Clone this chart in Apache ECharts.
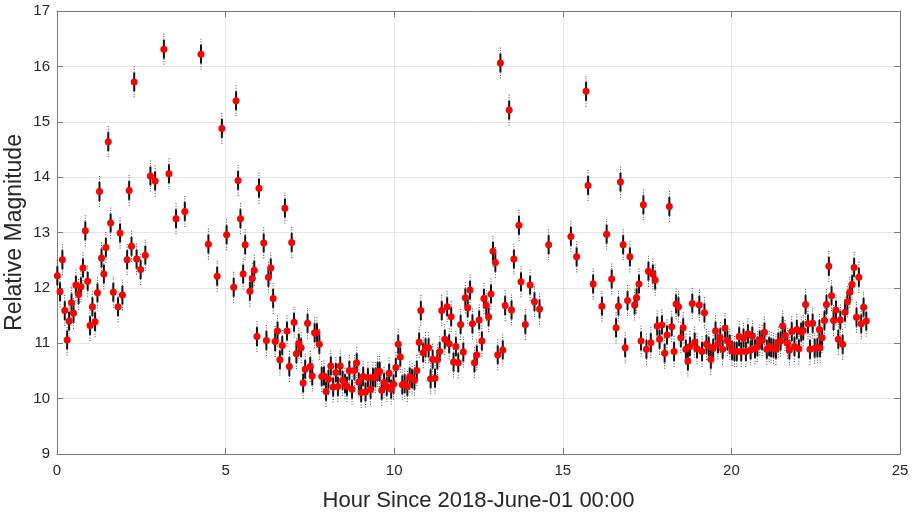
<!DOCTYPE html>
<html>
<head>
<meta charset="utf-8">
<script src="https://cdn.jsdelivr.net/npm/echarts@6/dist/echarts.min.js"></script>
<style>
html,body{margin:0;padding:0;background:#fff;}
#chart{width:915px;height:513px;}
</style>
</head>
<body>
<div id="chart"></div>
<script>
// Observation time (hours since 2018-06-01 00:00)
const hours = [
0.01,0.09,0.16,0.23,0.30,0.36,0.43,0.49,0.56,0.64,0.71,0.77,0.84,0.91,0.98,1.05,1.13,1.20,1.26,1.32,
1.39,1.45,1.52,1.59,1.67,1.81,1.87,1.94,2.08,2.14,2.21,2.29,2.36,2.48,2.62,2.77,2.91,3.17,3.32,3.53,
3.79,4.27,4.49,4.75,4.89,5.03,5.24,5.31,5.37,5.44,5.52,5.58,5.72,5.79,5.85,5.93,5.99,6.13,6.21,6.27,
6.34,6.41,6.47,6.54,6.61,6.68,6.76,6.82,6.89,6.96,7.03,7.10,7.17,7.24,7.30,7.36,7.43,7.51,7.57,7.64,
7.71,7.78,7.85,7.92,7.98,8.05,8.12,8.19,8.27,8.33,8.40,8.47,8.54,8.60,8.67,8.75,8.82,8.89,8.95,9.02,
9.08,9.15,9.22,9.30,9.37,9.44,9.51,9.57,9.63,9.70,9.78,9.85,9.91,9.98,10.05,10.12,10.18,10.24,10.31,10.39,
10.46,10.53,10.60,10.67,10.74,10.79,10.86,10.93,11.02,11.08,11.14,11.21,11.28,11.35,11.41,11.50,11.57,11.63,11.69,11.76,
11.83,11.90,11.97,12.05,12.11,12.18,12.25,12.32,12.38,12.45,12.52,12.60,12.66,12.73,12.80,12.87,12.93,13.00,13.07,13.15,
13.22,13.29,13.41,13.48,13.55,13.70,13.76,13.89,14.03,14.16,14.31,14.58,15.24,15.41,15.69,15.75,15.90,16.16,16.30,16.45,
16.58,16.65,16.71,16.79,16.85,16.92,16.99,17.13,17.19,17.26,17.32,17.39,17.48,17.54,17.61,17.67,17.74,17.80,17.87,17.94,
18.02,18.09,18.16,18.23,18.30,18.36,18.43,18.50,18.57,18.65,18.71,18.77,18.84,18.91,18.98,19.05,19.13,19.20,19.26,19.33,
19.39,19.46,19.53,19.60,19.67,19.74,19.81,19.88,19.95,20.02,20.09,20.16,20.23,20.29,20.36,20.43,20.49,20.57,20.62,20.70,
20.77,20.84,20.91,20.98,21.05,21.12,21.18,21.25,21.32,21.39,21.46,21.52,21.59,21.66,21.72,21.79,21.87,21.94,22.00,22.07,
22.13,22.20,22.27,22.33,22.41,22.47,22.55,22.61,22.63,22.69,22.76,22.82,22.89,22.97,23.03,23.10,23.17,23.23,23.30,23.37,
23.44,23.51,23.58,23.64,23.71,23.78,23.85,23.92,24.00
];
// Relative magnitude at each time
const magnitudes = [
12.22,11.93,12.51,11.59,11.06,11.40,11.73,11.54,12.05,11.88,12.02,12.36,13.03,12.12,11.32,11.66,11.39,11.91,13.74,12.54,
12.25,12.73,14.64,13.17,11.92,11.66,12.99,11.87,12.51,13.76,12.75,15.72,12.52,12.33,12.59,14.02,13.93,16.31,14.06,13.25,
13.38,16.22,12.79,12.21,14.88,12.96,12.01,15.38,13.94,13.25,12.25,12.78,11.94,12.17,12.32,11.12,13.80,12.81,11.05,12.19,
12.36,11.81,11.03,11.22,10.70,10.96,13.44,11.22,10.58,12.82,11.38,10.81,11.00,10.92,10.28,10.53,11.36,10.58,10.41,11.19,
11.19,10.98,10.40,10.41,10.13,10.35,10.59,10.21,10.47,10.22,10.59,10.33,10.27,10.22,10.51,10.17,10.51,10.65,10.30,10.11,
10.40,10.12,10.38,10.17,10.38,10.38,10.49,10.49,10.15,10.29,10.22,10.46,10.17,10.26,10.56,10.98,10.75,10.25,10.27,10.22,
10.39,10.36,10.33,10.51,11.02,11.59,10.83,10.92,10.92,10.36,10.71,10.37,10.70,10.85,11.59,11.07,11.66,10.99,11.48,10.66,
10.94,10.65,11.34,10.84,11.82,11.64,11.96,11.35,10.65,10.79,11.42,11.04,11.81,11.68,11.48,11.89,12.66,12.46,10.79,16.06,
10.88,11.68,15.21,11.60,12.52,13.13,12.11,11.34,12.05,11.75,11.62,12.78,12.93,12.56,15.55,13.85,12.07,11.67,12.97,12.16,
11.28,11.67,13.91,12.78,10.92,11.77,12.56,11.69,11.82,12.07,11.04,13.50,10.89,12.30,11.01,12.25,12.14,11.31,11.07,11.33,
10.82,11.15,13.47,11.30,10.85,11.71,11.66,11.10,11.28,10.89,10.68,10.94,11.72,11.02,10.90,11.69,10.85,11.55,10.98,10.94,
10.71,10.91,11.22,10.99,11.10,10.89,11.27,11.05,10.98,10.87,10.85,10.85,11.12,10.85,11.09,10.85,11.17,10.88,11.13,10.90,
10.94,11.06,11.05,11.20,10.89,10.94,10.92,10.91,10.89,11.02,11.04,11.31,11.14,11.00,10.88,11.21,10.94,11.25,10.90,11.20,
11.23,11.70,11.35,10.89,11.36,10.91,10.92,11.25,10.92,11.10,11.41,11.70,12.39,11.86,11.41,11.60,11.07,11.42,10.98,11.56,
11.75,11.92,12.06,12.37,11.47,12.19,11.35,11.65,11.40
];
const errInner = 0.17;   // solid part of error bar (mag)
const errOuter = 0.28;   // dotted extent of error bar (mag)
const xTicks = {min: 0, max: 25, interval: 5};
const yTicks = {min: 9, max: 17, interval: 1};

const points = hours.map((h, i) => [h, magnitudes[i]]);

const FONT = 'Liberation Sans, Arial, Helvetica, sans-serif';
const AXIS_COLOR = '#7a7a7a';
const TEXT_COLOR = '#262626';

const chart = echarts.init(document.getElementById('chart'), null, {renderer: 'canvas'});
chart.setOption({
  animation: false,
  backgroundColor: '#ffffff',
  grid: {left: 57, right: 15, top: 11, bottom: 59, containLabel: false, outerBoundsMode: 'none'},
  xAxis: [{
    type: 'value', min: xTicks.min, max: xTicks.max, interval: xTicks.interval,
    name: 'Hour Since 2018-June-01 00:00', nameLocation: 'middle', nameGap: 36,
    nameTextStyle: {fontFamily: FONT, fontSize: 22, color: TEXT_COLOR},
    axisLine: {show: true, onZero: false, lineStyle: {color: AXIS_COLOR, width: 1}},
    axisTick: {show: true, inside: true, length: 6, lineStyle: {color: AXIS_COLOR}},
    axisLabel: {fontFamily: FONT, fontSize: 15, color: TEXT_COLOR, margin: 9},
    splitLine: {show: true, lineStyle: {color: '#e6e6e6', width: 1}}
  }, {
    type: 'value', position: 'top', min: xTicks.min, max: xTicks.max, interval: xTicks.interval,
    axisLine: {show: true, onZero: false, lineStyle: {color: AXIS_COLOR, width: 1}},
    axisTick: {show: true, inside: true, length: 6, lineStyle: {color: AXIS_COLOR}},
    axisLabel: {show: false}, splitLine: {show: false}
  }],
  yAxis: [{
    type: 'value', min: yTicks.min, max: yTicks.max, interval: yTicks.interval,
    name: 'Relative Magnitude', nameLocation: 'middle', nameGap: 31, nameRotate: 90,
    nameMoveOverlap: false,
    nameTextStyle: {fontFamily: FONT, fontSize: 23, color: TEXT_COLOR},
    axisLine: {show: true, onZero: false, lineStyle: {color: AXIS_COLOR, width: 1}},
    axisTick: {show: true, inside: true, length: 6, lineStyle: {color: AXIS_COLOR}},
    axisLabel: {fontFamily: FONT, fontSize: 15, color: TEXT_COLOR, margin: 7},
    splitLine: {show: true, lineStyle: {color: '#e6e6e6', width: 1}}
  }, {
    type: 'value', position: 'right', min: yTicks.min, max: yTicks.max, interval: yTicks.interval,
    axisLine: {show: true, onZero: false, lineStyle: {color: AXIS_COLOR, width: 1}},
    axisTick: {show: true, inside: true, length: 6, lineStyle: {color: AXIS_COLOR}},
    axisLabel: {show: false}, splitLine: {show: false}
  }],
  series: [{
    type: 'custom',
    xAxisIndex: 0, yAxisIndex: 0,
    data: points,
    renderItem: function (params, api) {
      const x = api.value(0), y = api.value(1);
      const o1 = api.coord([x, y - errOuter]), o2 = api.coord([x, y + errOuter]);
      const i1 = api.coord([x, y - errInner]), i2 = api.coord([x, y + errInner]);
      return {
        type: 'group',
        children: [
          {type: 'line', shape: {x1: o1[0], y1: o1[1], x2: o2[0], y2: o2[1]},
           style: {stroke: '#444', lineWidth: 1, lineDash: [1, 1.5]}},
          {type: 'line', shape: {x1: i1[0], y1: i1[1], x2: i2[0], y2: i2[1]},
           style: {stroke: '#111', lineWidth: 2}}
        ]
      };
    },
    z: 2
  }, {
    type: 'scatter',
    xAxisIndex: 0, yAxisIndex: 0,
    data: points,
    symbol: 'circle', symbolSize: 7,
    itemStyle: {color: '#ff0000', opacity: 1},
    z: 3
  }]
});
</script>
</body>
</html>
